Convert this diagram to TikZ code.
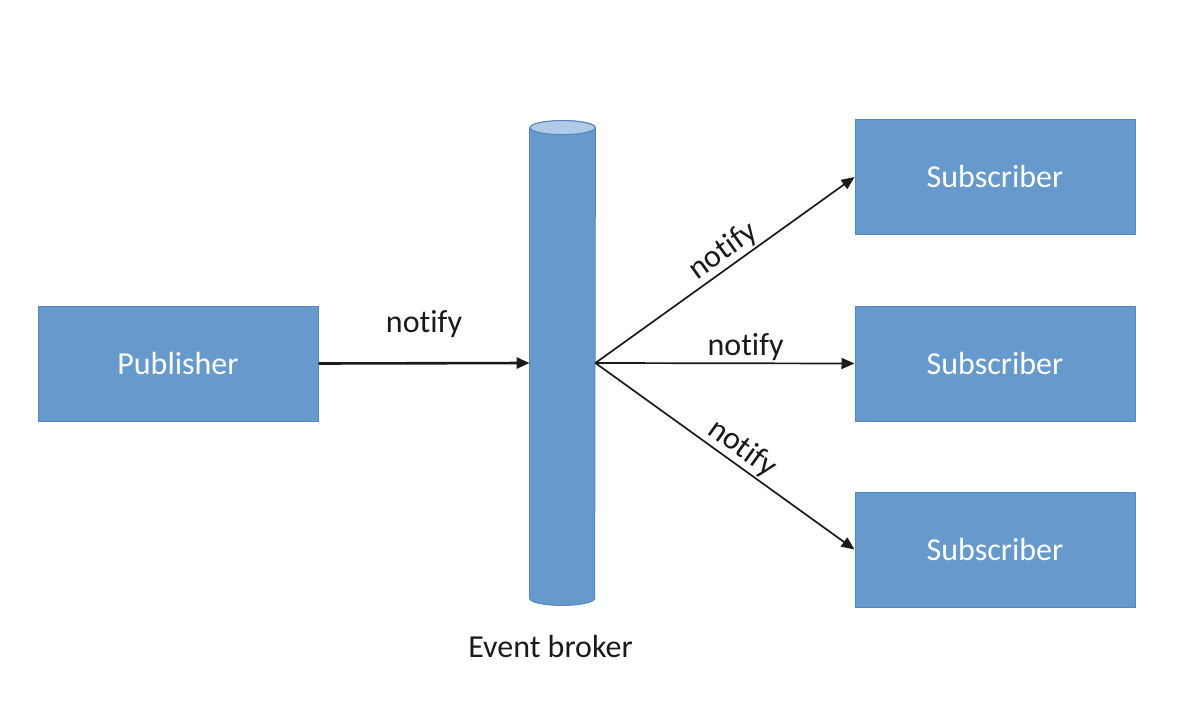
\documentclass[tikz,border=0pt]{standalone}
\usepackage{fontspec}
\setmainfont{Carlito}[Ligatures = NoCommon]
\usepackage{xcolor}
\usepackage{tikz}
\usetikzlibrary{arrows.meta}
\definecolor{boxFill}{HTML}{6699CC}
\definecolor{boxLine}{HTML}{5785BD}
\definecolor{capFill}{HTML}{B0CAE8}
\definecolor{textDark}{HTML}{1A1A1A}
\newcommand{\roleNode}[4]{
	\node[role] (#1) at (#2, #3) {#4};
}
\tikzset{
	role/.style = {draw = boxLine, line width = 0.5pt, fill = boxFill, text = white, minimum width = 140pt, minimum height = 57.5pt, inner sep = 0pt, font = \fontsize{16}{18}\selectfont},
	msg/.style = {-{Triangle[length = 6.5pt, width = 5.5pt]}, line width = 0.85pt, textDark},
	lbl/.style = {text = textDark, font = \fontsize{16}{18}\selectfont}
}

\begin{document}
\begin{tikzpicture}[x = 0.5pt, y = -0.5pt]%

		\useasboundingbox (0, 0) rectangle (1180, 702);

		% publisher
		\roleNode{pub}{178}{363.5}{Publisher}

		% subscribers
		\roleNode{subA}{995}{177}{Subscriber}
		\roleNode{subB}{995}{363.5}{Subscriber}
		\roleNode{subC}{995}{549.5}{Subscriber}

		% event broker
		\node[minimum width = 32.5pt, minimum height = 235pt, inner sep = 0pt] (broker) at (562.5, 363) {};
		\fill[boxFill, draw = boxLine, line width = 0.5pt] (broker.north west) -- (broker.south west)
			arc[start angle = 180, end angle = 0, x radius = 32.5, y radius = 7] -- (broker.north east)
			arc[start angle = 0, end angle = -180, x radius = 32.5, y radius = 7];
		\draw[boxLine, fill = capFill, line width = 0.5pt] (broker.north) ellipse[x radius = 32.5, y radius = 7];
		\node[lbl, below = 15pt, xshift = -6pt] (brokerName) at (broker.south) {Event broker};

		% notify arrows
		\draw[msg, line width = 1.3pt] (pub.east) -- node[lbl, above = 9pt] {notify} (broker.west);
		\draw[msg] (broker.east) -- node[lbl, pos = 0.53, above, sloped, inner sep = 1pt] {notify} (subA.west);
		\draw[msg] (broker.east) -- node[lbl, pos = 0.58, above, inner sep = 1pt] {notify} (subB.west);
		\draw[msg] (broker.east) -- node[lbl, pos = 0.53, above, sloped, inner sep = 1pt] {notify} (subC.west);

	\end{tikzpicture}
\end{document}
